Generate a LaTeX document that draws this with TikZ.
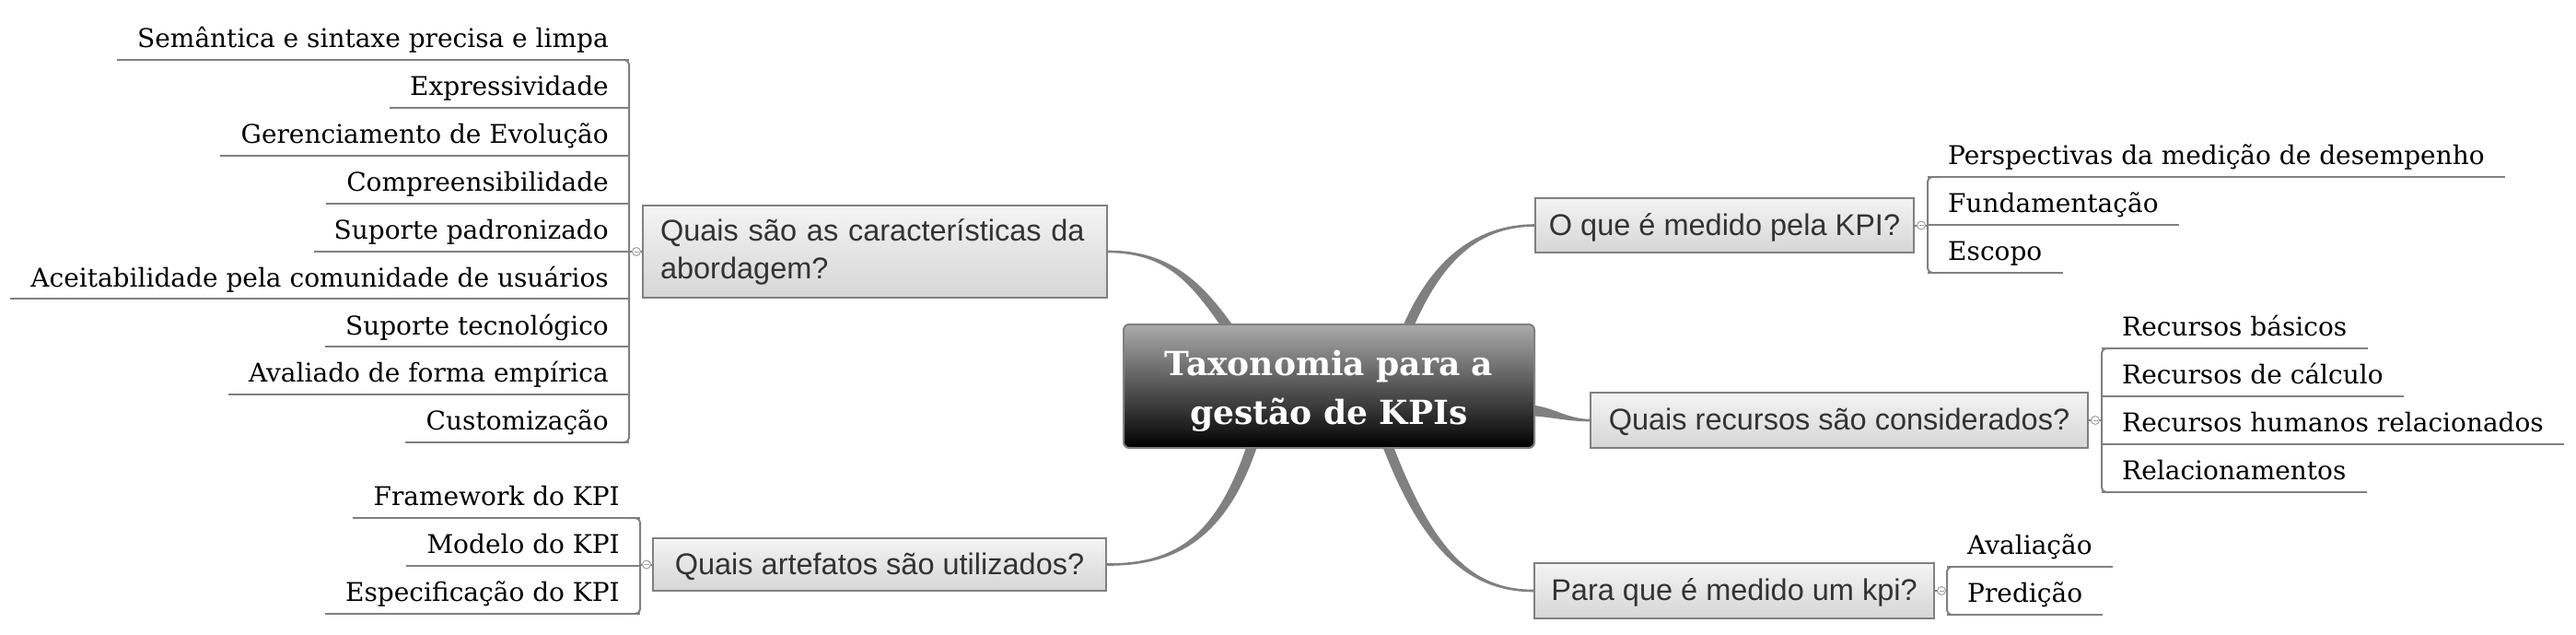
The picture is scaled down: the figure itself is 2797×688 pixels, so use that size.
\documentclass[tikz,border=0pt]{standalone}
\usepackage{fontspec}
\setmainfont{DejaVu Serif}
\newfontfamily\boxfont{Liberation Sans}
\newfontfamily\leaffont{DejaVu Serif}
\newfontfamily\titlefont{DejaVu Serif}
\usetikzlibrary{calc,backgrounds}
\definecolor{linkgray}{HTML}{808080}
\definecolor{knobgray}{HTML}{A0A0A0}
\definecolor{boxtop}{HTML}{F4F4F4}
\definecolor{boxbot}{HTML}{D6D6D6}
\definecolor{roottop}{HTML}{ABABAB}
\definecolor{boxtext}{HTML}{333333}
\newcommand\taperlink[6]{%
  \path (#1) coordinate (tp0) (#2) coordinate (tp1) (#3) coordinate (tp2) (#4) coordinate (tp3);
  \path ($(tp0)!#5!90:(tp1)$) coordinate (ta0)
        ($(tp0)!#5!-90:(tp1)$) coordinate (tb0)
        ($(tp3)!#6!-90:(tp2)$) coordinate (ta3)
        ($(tp3)!#6!90:(tp2)$) coordinate (tb3);
  \fill[linkgray] (ta0) .. controls ($(tp1)+(ta0)-(tp0)$) and ($(tp2)+(ta3)-(tp3)$) .. (ta3)
     -- (tb3) .. controls ($(tp2)+(tb3)-(tp3)$) and ($(tp1)+(tb0)-(tp0)$) .. (tb0) -- cycle;
}
\begin{document}
\begin{tikzpicture}[x=1pt,y=-1pt,
  ln/.style={draw=linkgray, line width=2},
  leaf/.style={font=\leaffont\fontsize{28}{30}\selectfont, inner xsep=22, inner ysep=13, text height=20, text depth=0},
  leafl/.style={leaf, anchor=south east},
  leafr/.style={leaf, anchor=south west},
  qbox/.style={draw=linkgray, line width=2, top color=boxtop, bottom color=boxbot,
    font=\boxfont\fontsize{32.5}{41}\selectfont, text=boxtext, inner sep=0, align=left},
  qline/.style={qbox, text height=24, text depth=3},
  rootbox/.style={draw=linkgray, line width=2, rounded corners=6, top color=roottop, bottom color=black, inner sep=0},
  roottext/.style={font=\titlefont\bfseries\fontsize{36}{53}\selectfont, text=white, align=center, inner sep=0},
  knob/.style={circle, draw=knobgray, fill=white, line width=1, minimum size=9, inner sep=0,
    path picture={\draw[knobgray, line width=0.8] ([xshift=2pt]path picture bounding box.west) -- ([xshift=-2pt]path picture bounding box.east);}}
]
\useasboundingbox (0,0) rectangle (2797,688);

% root
\node[rootbox, minimum width=446, minimum height=134] (root) at (1443,419) {};
\node[roottext] (roottxt) at ($(root.center)+(0,5)$) {Taxonomia para a\\gestão de KPIs};

% branch boxes
\node[qbox, minimum width=504, minimum height=100, text width=466] (b1) at (950,273) {Quais são as características da\\abordagem?};
\node[qline, minimum width=492, minimum height=57] (b2) at (955,612.5) {Quais artefatos são utilizados?};
\node[qline, minimum width=411, minimum height=59] (b3) at (1872.5,244.5) {O que é medido pela KPI?};
\node[qline, minimum width=540, minimum height=60] (b4) at (1997,456) {Quais recursos são considerados?};
\node[qline, minimum width=434, minimum height=60] (b5) at (1883,641) {Para que é medido um kpi?};

% main tapered links
\begin{pgfonlayer}{background}
\taperlink{b1.east}{1272,273}{1302,311}{$(root.north)+(-107,8)$}{1.3pt}{5.5pt}
\taperlink{b2.east}{1280,613}{1328,580}{$(root.south)+(-82,-8)$}{1.3pt}{5.5pt}
\taperlink{b3.west}{1607,245}{1561,278}{$(root.north)+(84,8)$}{1.3pt}{5.5pt}
\taperlink{b4.west}{1700,456}{1685,446}{$(root.east)+(-10,26)$}{1.3pt}{6pt}
\taperlink{b5.west}{1597,641}{1550,598}{$(root.south)+(62,-8)$}{1.3pt}{5.5pt}
\end{pgfonlayer}

% left top leaves
\foreach \t [count=\i] in {Semântica e sintaxe precisa e limpa, Expressividade, Gerenciamento de Evolução, Compreensibilidade, Suporte padronizado, Aceitabilidade pela comunidade de usuários, Suporte tecnológico, Avaliado de forma empírica, Customização}
  \node[leafl] (la\i) at (683,{65+51.875*(\i-1)}) {\t};
\foreach \i in {1,...,9} \draw[ln] (la\i.south west) -- (la\i.south east);
\draw[ln, rounded corners=5] ($(la1.south east)+(-12,0)$) -- (la1.south east) -- (la9.south east) -- ($(la9.south east)+(-12,0)$);
\draw[ln] (b1.west) -- (b1.west -| la1.south east);
\node[knob] (k1) at ($(b1.west)+(-6,0)$) {};

% left bottom leaves
\foreach \t [count=\i] in {Framework do KPI, Modelo do KPI, Especificação do KPI}
  \node[leafl] (lb\i) at (695,{562+52*(\i-1)}) {\t};
\foreach \i in {1,...,3} \draw[ln] (lb\i.south west) -- (lb\i.south east);
\draw[ln, rounded corners=5] ($(lb1.south east)+(-12,0)$) -- (lb1.south east) -- (lb3.south east) -- ($(lb3.south east)+(-12,0)$);
\draw[ln] (b2.west) -- (b2.west -| lb1.south east);
\node[knob] (k2) at ($(b2.west)+(-6,0)$) {};

% right: O que
\foreach \t [count=\i] in {Perspectivas da medição de desempenho, Fundamentação, Escopo}
  \node[leafr] (lo\i) at (2093,{192+52*(\i-1)}) {\t};
\foreach \i in {1,...,3} \draw[ln] (lo\i.south west) -- (lo\i.south east);
\draw[ln, rounded corners=5] ($(lo1.south west)+(12,0)$) -- (lo1.south west) -- (lo3.south west) -- ($(lo3.south west)+(12,0)$);
\draw[ln] (b3.east) -- (b3.east -| lo1.south west);
\node[knob] (k3) at ($(b3.east)+(7,0)$) {};

% right: recursos
\foreach \t [count=\i] in {Recursos básicos, Recursos de cálculo, Recursos humanos relacionados, Relacionamentos}
  \node[leafr] (lr\i) at (2282,{378+52*(\i-1)}) {\t};
\foreach \i in {1,...,4} \draw[ln] (lr\i.south west) -- (lr\i.south east);
\draw[ln, rounded corners=5] ($(lr1.south west)+(12,0)$) -- (lr1.south west) -- (lr4.south west) -- ($(lr4.south west)+(12,0)$);
\draw[ln] (b4.east) -- (b4.east -| lr1.south west);
\node[knob] (k4) at ($(b4.east)+(7,0)$) {};

% right: para que
\foreach \t [count=\i] in {Avaliação, Predição}
  \node[leafr] (lp\i) at (2114,{615+52*(\i-1)}) {\t};
\foreach \i in {1,2} \draw[ln] (lp\i.south west) -- (lp\i.south east);
\draw[ln, rounded corners=5] ($(lp1.south west)+(12,0)$) -- (lp1.south west) -- (lp2.south west) -- ($(lp2.south west)+(12,0)$);
\draw[ln] (b5.east) -- (b5.east -| lp1.south west);
\node[knob] (k5) at ($(b5.east)+(7,0)$) {};
\end{tikzpicture}
\end{document}
